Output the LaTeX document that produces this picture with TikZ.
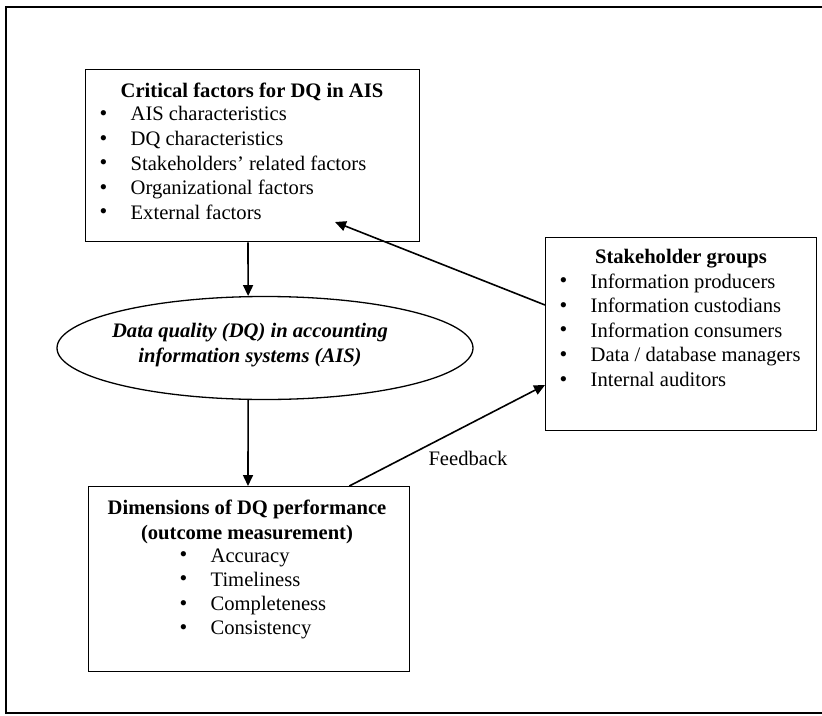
\documentclass[tikz,border=0pt]{standalone}
\usepackage{fontspec}
\setmainfont{Liberation Serif}
\usetikzlibrary{arrows.meta,positioning,shapes.geometric}

\newcommand{\dqbullet}{\makebox[31pt][l]{\raisebox{0.5pt}{\fontsize{22}{22}\selectfont\textbullet}}}

\begin{document}
\begin{tikzpicture}[x=1pt,y=-1pt,line width=1.3pt,
                    panel/.style={draw,rectangle,anchor=north west,inner sep=0pt},
                    heading/.style={font=\fontsize{20.6}{25}\selectfont\bfseries,
                                    align=center,inner sep=0pt,anchor=north},
                    itemlist/.style={font=\fontsize{20.6}{24.6}\selectfont,
                                     align=left,inner sep=0pt,anchor=north west},
                    flow/.style={line width=1.6pt,-{Triangle[length=11pt,width=10pt]}}]
  \useasboundingbox (0,0) rectangle (822,715);
  \draw (822,7) -- (6,7) -- (6,713) -- (822,713);

  % critical factors
  \node[panel,minimum width=334pt,minimum height=172pt] (critical) at (85,69) {};
  \node[heading] (criticalhead) at (252,82) {Critical factors for DQ in AIS};
  \node[itemlist] (criticallist) at (99,106)
    {\dqbullet AIS characteristics\\
     \dqbullet DQ characteristics\\
     \dqbullet Stakeholders’ related factors\\
     \dqbullet Organizational factors\\
     \dqbullet External factors};

  % data quality
  \node[draw,ellipse,minimum width=416pt,minimum height=103pt,inner sep=0pt] (quality) at (265,348) {};
  \node[align=center,inner sep=0pt,anchor=north,
        font=\fontsize{20.6}{25}\selectfont\bfseries\itshape]
    (qualitytext) at (250,323) {Data quality (DQ) in accounting\\information systems (AIS)};

  % stakeholders
  \node[panel,minimum width=271pt,minimum height=193pt] (stake) at (545,237) {};
  \node[heading] (stakehead) at (681,249) {Stakeholder groups};
  \node[itemlist] (stakelist) at (559,273)
    {\dqbullet Information producers\\
     \dqbullet Information custodians\\
     \dqbullet Information consumers\\
     \dqbullet Data / database managers\\
     \dqbullet Internal auditors};

  % outcome
  \node[panel,minimum width=321pt,minimum height=185pt] (outcome) at (88,486) {};
  \node[heading] (outcomehead) at (247,499)
    {Dimensions of DQ performance\\(outcome measurement)};
  \node[itemlist,font=\fontsize{20.6}{24.2}\selectfont] (outcomelist) at (179,548)
    {\dqbullet Accuracy\\
     \dqbullet Timeliness\\
     \dqbullet Completeness\\
     \dqbullet Consistency};

  \node[font=\fontsize{20.6}{22}\selectfont] (feedback) at (468,458) {Feedback};

  \coordinate (spine) at (248,0);
  \coordinate (feedin) at (335,222);
  \draw[flow] (critical.south -| spine) -- (quality.108);
  \draw[flow] (quality.252) -- (outcome.north -| spine);
  \draw[flow] ([yshift=-68pt]stake.north west) -- (feedin);
  \draw[flow] ([xshift=-61pt]outcome.north east) -- ([yshift=-148pt]stake.north west);
\end{tikzpicture}
\end{document}
